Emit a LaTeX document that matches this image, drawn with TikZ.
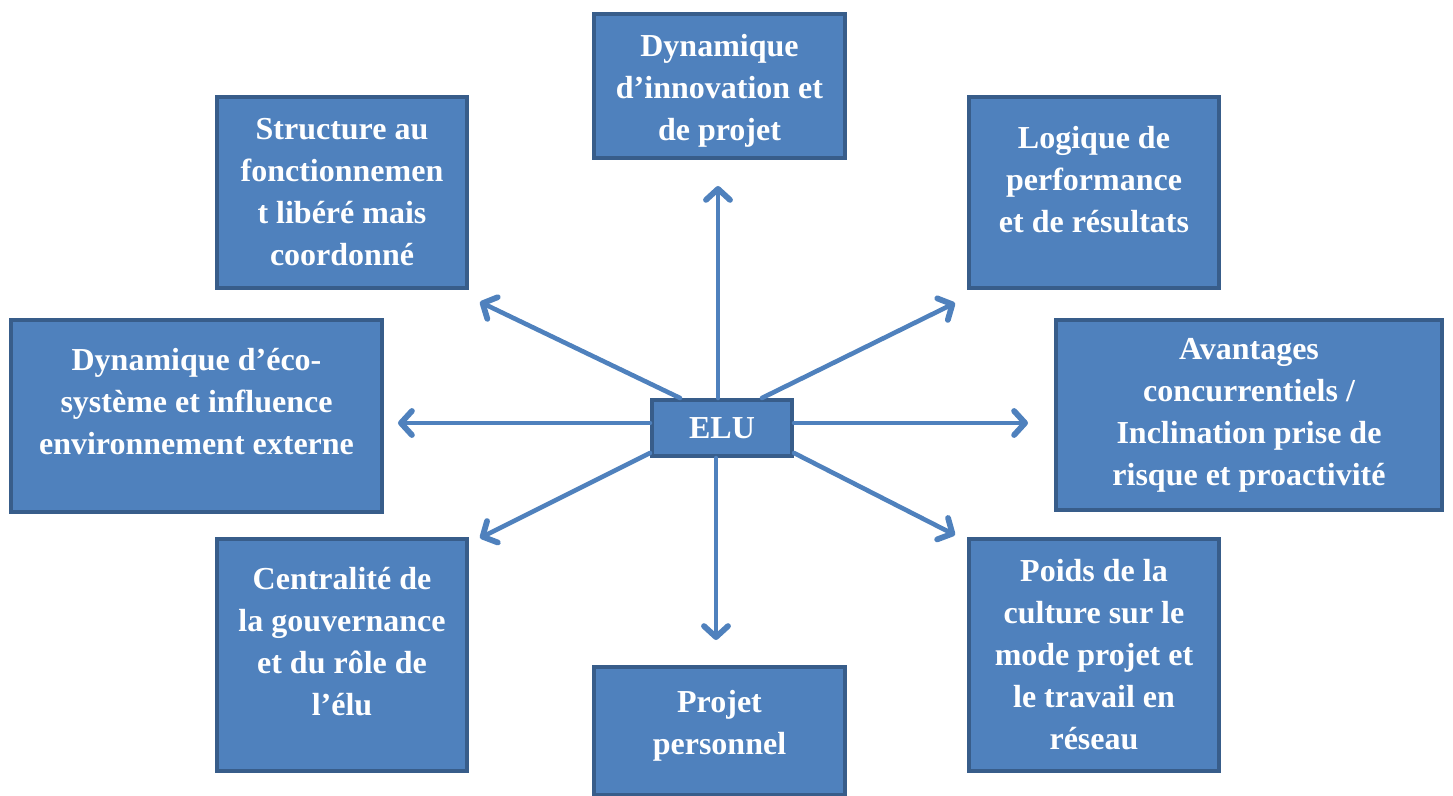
\documentclass[tikz,border=0pt]{standalone}
\usepackage{fontspec}
\setmainfont{Liberation Serif}
\usetikzlibrary{arrows.meta}
\definecolor{boxblau}{HTML}{4F81BD}
\definecolor{randblau}{HTML}{385D8A}
\newcommand{\tief}[1]{\rule[-#1]{0pt}{#1}}

\begin{document}
\begin{tikzpicture}[x=0.5pt,y=-0.5pt,
	kasten/.style={draw=randblau, fill=boxblau, line width=2pt, text=white, align=center, inner sep=0pt,
		font=\fontsize{16}{21}\selectfont\bfseries},
	pfeil/.style={draw=boxblau, line width=2.3pt, line cap=round, -{Straight Barb[length=5.5pt,width=12pt,line width=2.9pt,line cap=round,line join=round]}}]
	\useasboundingbox (0,0) rectangle (1453,796);
	
	%Kaesten
	\node[kasten, minimum width=125.5pt, minimum height=72pt] (innov) at (719.5,86) {\rule{0pt}{16pt}Dynamique\\d’innovation et\\de projet};
	\node[kasten, minimum width=125pt, minimum height=95.5pt] (struct) at (342,192.5) {Structure au\\fonctionnemen\\t libéré mais\\coordonné};
	\node[kasten, minimum width=125pt, minimum height=95.5pt] (logik) at (1094,192.5) {Logique de\\performance\\et de résultats\tief{13pt}};
	\node[kasten, minimum width=185.5pt, minimum height=96pt] (eco) at (196.5,416) {Dynamique d’éco-\\système et influence\\environnement externe\tief{15pt}};
	\node[kasten, minimum width=193pt, minimum height=95pt] (avant) at (1249,415) {Avantages\\concurrentiels /\\Inclination prise de\\risque et proactivité};
	\node[kasten, minimum width=125pt, minimum height=116pt] (gouv) at (342,655) {Centralité de\\la gouvernance\\et du rôle de\\l’élu\tief{14pt}};
	\node[kasten, minimum width=125pt, minimum height=116pt] (kultur) at (1094,655) {Poids de la\\culture sur le\\mode projet et\\le travail en\\réseau};
	\node[kasten, minimum width=125.5pt, minimum height=64pt] (perso) at (719.5,731) {Projet\\personnel\tief{9pt}};
	
	\node[kasten, minimum width=70pt, minimum height=28pt] (elu) at (722,428) {ELU};%Mitte
	
	%Pfeilspitzen
	\coordinate (p1) at (718,186);
	\coordinate (p2) at (955,303);
	\coordinate (p3) at (1028,423);
	\coordinate (p4) at (955,535);
	\coordinate (p5) at (716,640);
	\coordinate (p6) at (480,538);
	\coordinate (p7) at (398,423);
	\coordinate (p8) at (480,302);
	
	\draw[pfeil] ([xshift=-2pt]elu.north) -- (p1);
	\draw[pfeil] ([xshift=20pt]elu.north) -- (p2);
	\draw[pfeil] ([yshift=2.5pt]elu.east) -- (p3);
	\draw[pfeil] ([yshift=-12.5pt]elu.east) -- (p4);
	\draw[pfeil] ([xshift=-3pt]elu.south) -- (p5);
	\draw[pfeil] ([yshift=-12.5pt]elu.west) -- (p6);
	\draw[pfeil] ([yshift=2.5pt]elu.west) -- (p7);
	\draw[pfeil] ([xshift=-21pt]elu.north) -- (p8);
\end{tikzpicture}
\end{document}
